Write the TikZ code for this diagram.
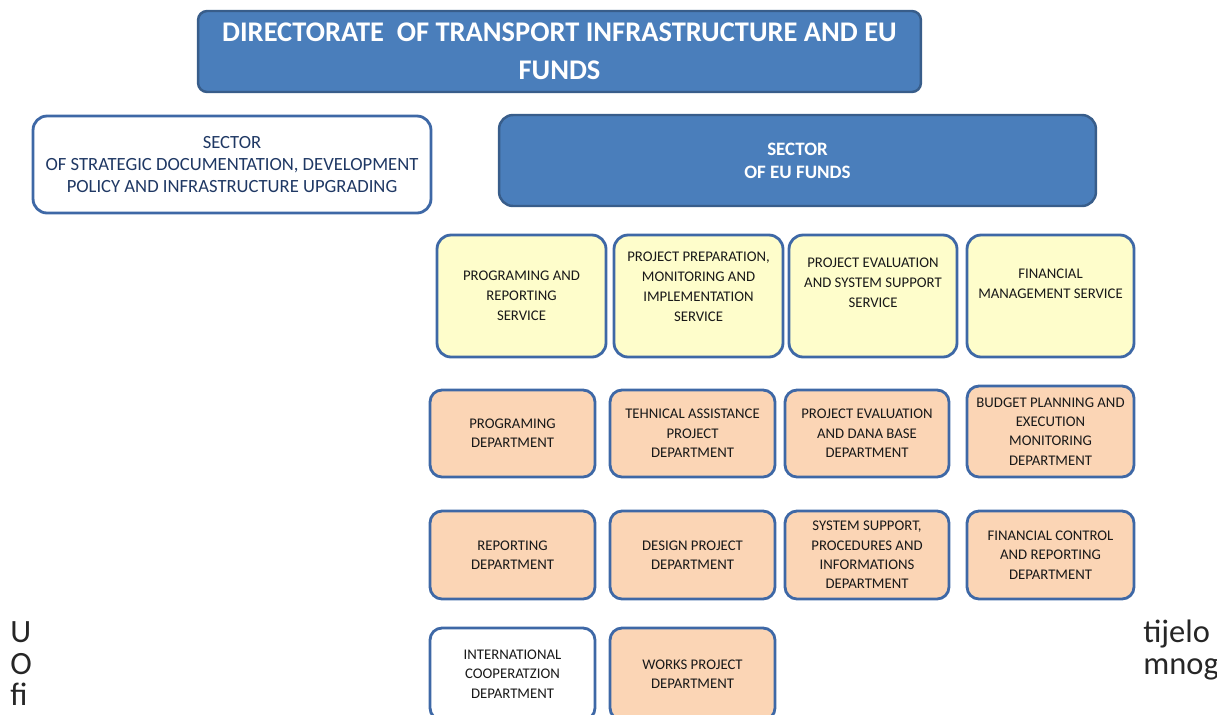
\documentclass[tikz,border=0pt]{standalone}
\usepackage{fontspec}
\setmainfont{Carlito}
\usepackage{xcolor}
\usetikzlibrary{positioning}

\definecolor{headblue}{HTML}{4A7EBB}
\definecolor{headline}{HTML}{385D8A}
\definecolor{boxline}{HTML}{3E68A6}
\definecolor{navytext}{HTML}{1F3864}
\definecolor{servicefill}{HTML}{FEFDCB}
\definecolor{deptfill}{HTML}{FBD5B5}

\begin{document}
\begin{tikzpicture}[x=0.02cm, y=-0.02cm,
    unit/.style={draw=boxline, line width=1.6pt, rounded corners=0.28cm,
      align=center, inner sep=1pt, text=black!90,
      font=\fontsize{8.4}{11}\selectfont},
    head/.style={draw=headline, line width=1.4pt, fill=headblue, text=white,
      align=center, font=\bfseries},
    service/.style={unit, fill=servicefill, minimum height=2.44cm,
      font=\fontsize{8.4}{11.4}\selectfont},
    dept/.style={unit, fill=deptfill, rounded corners=0.24cm},
    plain/.style={unit, fill=white, rounded corners=0.24cm},
    doc/.style={inner sep=0pt, text=black!85,
      font=\fontsize{18.5}{20}\selectfont}]
      \useasboundingbox (0,0) rectangle (1217,714);

      % Directorate
      \node[head, rounded corners=0.18cm, minimum width=14.46cm, minimum height=1.62cm,
        font=\fontsize{16.2}{21.5}\selectfont\bfseries] (dir) at (559.5,51.5)
        {DIRECTORATE\ \ OF TRANSPORT INFRASTRUCTURE AND EU\\FUNDS};

      % Sectors
      \node[unit, fill=white, minimum width=7.96cm, minimum height=1.94cm,
        text=navytext, font=\fontsize{10.6}{12.6}\selectfont] (secdev) at (232,164.5)
        {SECTOR\\OF STRATEGIC DOCUMENTATION, DEVELOPMENT\\POLICY AND INFRASTRUCTURE UPGRADING};
      \node[head, rounded corners=0.28cm, minimum width=11.94cm, minimum height=1.82cm,
        font=\fontsize{10.8}{13}\selectfont\bfseries] (seceu) at (797.5,160.5)
        {SECTOR\\OF EU FUNDS};

      % Services
      \node[service, minimum width=3.38cm] (srvprog) at (521.5,296)
        {PROGRAMING AND\\REPORTING\\SERVICE};
      \node[service, minimum width=3.38cm, text depth=1.1em] (srvprep) at (698.5,296)
        {PROJECT PREPARATION,\\MONITORING AND\\IMPLEMENTATION\\SERVICE};
      \node[service, minimum width=3.36cm, text depth=1.5em] (srveval) at (873,296)
        {PROJECT EVALUATION\\AND SYSTEM SUPPORT\\SERVICE};
      \node[service, minimum width=3.34cm, text depth=1.4em] (srvfin) at (1050.5,296)
        {FINANCIAL\\MANAGEMENT SERVICE};

      % Departments, first row
      \node[dept, minimum width=3.3cm, minimum height=1.74cm] (dprog) at (512.5,433.5)
        {PROGRAMING\\DEPARTMENT};
      \node[dept, minimum width=3.3cm, minimum height=1.74cm] (dta) at (692.5,433.5)
        {TEHNICAL ASSISTANCE\\PROJECT\\DEPARTMENT};
      \node[dept, minimum width=3.28cm, minimum height=1.74cm] (deval) at (867,433.5)
        {PROJECT EVALUATION\\AND DANA BASE\\DEPARTMENT};
      \node[dept, minimum width=3.34cm, minimum height=1.82cm] (dbudget) at (1050.5,431.5)
        {BUDGET PLANNING AND\\EXECUTION\\MONITORING\\DEPARTMENT};

      % Departments, second row
      \node[dept, minimum width=3.3cm, minimum height=1.76cm] (drep) at (512.5,555)
        {REPORTING\\DEPARTMENT};
      \node[dept, minimum width=3.3cm, minimum height=1.76cm] (ddesign) at (692.5,555)
        {DESIGN PROJECT\\DEPARTMENT};
      \node[dept, minimum width=3.28cm, minimum height=1.76cm] (dsys) at (867,555)
        {SYSTEM SUPPORT,\\PROCEDURES AND\\INFORMATIONS\\DEPARTMENT};
      \node[dept, minimum width=3.34cm, minimum height=1.76cm] (dctrl) at (1050.5,555)
        {FINANCIAL CONTROL\\AND REPORTING\\DEPARTMENT};

      % Departments, third row
      \node[plain, minimum width=3.3cm, minimum height=1.84cm] (dint) at (512.5,674)
        {INTERNATIONAL\\COOPERATZION\\DEPARTMENT};
      \node[dept, minimum width=3.3cm, minimum height=1.84cm] (dworks) at (692.5,674)
        {WORKS PROJECT\\DEPARTMENT};

      % surrounding text
      \node[doc, anchor=base west] (txtu) at (10,642) {U};
      \node[doc, anchor=base west] (txto) at (10,674) {O};
      \node[doc, anchor=base west] (txtfi) at (10,705) {fi};
      \node[doc, anchor=base west] (txttij) at (1143,642) {tijelo};
      \node[doc, anchor=base west] (txtmn) at (1143,674) {mnog};
\end{tikzpicture}
\end{document}
